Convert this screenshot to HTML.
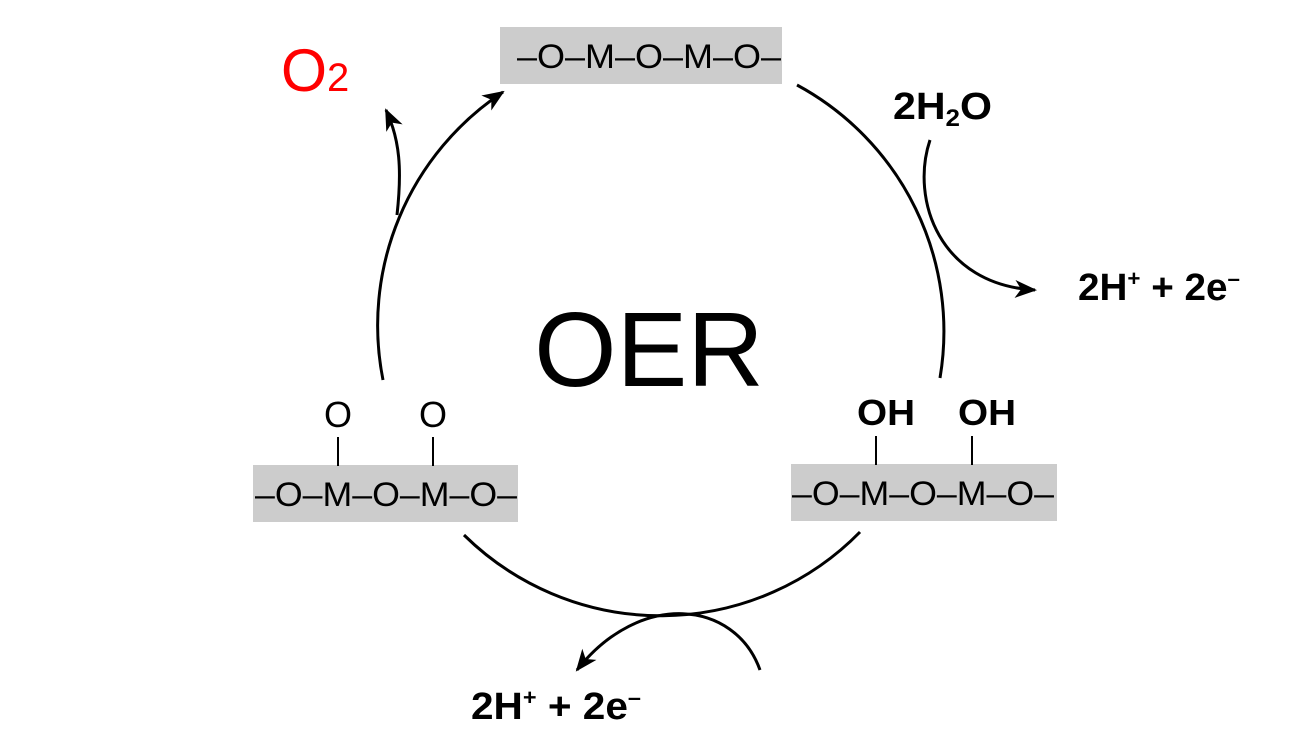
<!DOCTYPE html>
<html><head><style>
body{margin:0;width:1300px;height:732px;background:#fff;overflow:hidden}
svg{display:block}
text{font-family:"Liberation Sans",Arial,sans-serif}
</style></head><body>
<svg width="1300" height="732" viewBox="0 0 1300 732">
<defs>
<marker id="b" markerWidth="24" markerHeight="20" refX="20" refY="10" orient="auto" markerUnits="userSpaceOnUse">
<path d="M0,1 L22,10 L0,19 L6,10 Z" fill="#000"/>
</marker>
</defs>
<rect x="500" y="27" width="282" height="57" fill="#cccccc"/>
<rect x="253" y="465" width="265" height="57" fill="#cccccc"/>
<rect x="791" y="464" width="266" height="57" fill="#cccccc"/>
<g font-size="34" fill="#000">
<text x="517" y="68" textLength="264" lengthAdjust="spacingAndGlyphs">–O–M–O–M–O–</text>
<text x="255" y="506" textLength="262" lengthAdjust="spacingAndGlyphs">–O–M–O–M–O–</text>
<text x="792" y="505" textLength="262" lengthAdjust="spacingAndGlyphs">–O–M–O–M–O–</text>
<text x="338" y="427" text-anchor="middle" font-size="36">O</text>
<text x="433" y="427" text-anchor="middle" font-size="36">O</text>
<text x="886" y="425" text-anchor="middle" font-weight="bold" font-size="36" textLength="58" lengthAdjust="spacingAndGlyphs">OH</text>
<text x="987" y="425" text-anchor="middle" font-weight="bold" font-size="36" textLength="58" lengthAdjust="spacingAndGlyphs">OH</text>
</g>
<g stroke="#000" stroke-width="2">
<line x1="338" y1="437" x2="338" y2="466"/>
<line x1="433" y1="437" x2="433" y2="466"/>
<line x1="876" y1="436" x2="876" y2="465"/>
<line x1="972" y1="436" x2="972" y2="465"/>
</g>
<g fill="none" stroke="#000" stroke-width="3">
<path d="M797,85 A280,280 0 0 1 940,378"/>
<path d="M860,532 A280,280 0 0 1 464,535"/>
<path d="M383,380 A280,280 0 0 1 503,92" marker-end="url(#b)"/>
<path d="M930,140 C910,200 940,285 1035,290" marker-end="url(#b)"/>
<path d="M397,215 C402,170 400,140 386,110" marker-end="url(#b)"/>
<path d="M760,670 C735,600 640,590 577,670" marker-end="url(#b)"/>
</g>
<text x="649" y="386" text-anchor="middle" font-size="106">OER</text>
<text x="281" y="91" font-size="60" fill="#ff0000" textLength="46" lengthAdjust="spacingAndGlyphs">O</text>
<text x="327" y="91" font-size="40" fill="#ff0000">2</text>
<text x="893" y="119" font-size="38" font-weight="bold" textLength="99" lengthAdjust="spacingAndGlyphs">2H<tspan font-size="24" dy="7">2</tspan><tspan dy="-7">O</tspan></text>
<text x="1078" y="300" font-size="38" font-weight="bold" textLength="162" lengthAdjust="spacingAndGlyphs">2H<tspan font-size="22" dy="-14">+</tspan><tspan dy="14"> + 2e</tspan><tspan font-size="22" dy="-14">–</tspan></text>
<text x="471" y="719" font-size="38" font-weight="bold" textLength="170" lengthAdjust="spacingAndGlyphs">2H<tspan font-size="22" dy="-14">+</tspan><tspan dy="14"> + 2e</tspan><tspan font-size="22" dy="-14">–</tspan></text>
</svg>
</body></html>
